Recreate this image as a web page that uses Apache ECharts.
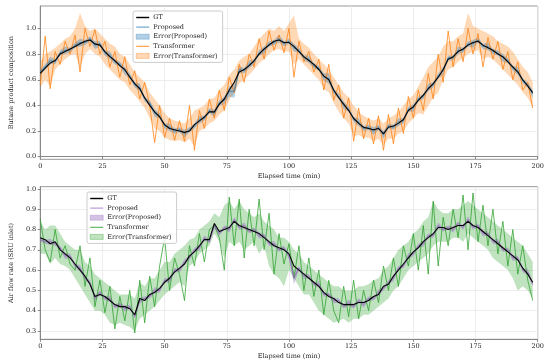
<!DOCTYPE html>
<html><head><meta charset="utf-8">
<script src="https://cdn.jsdelivr.net/npm/echarts@6/dist/echarts.min.js"></script>
<style>html,body{margin:0;padding:0;background:#fff}#c{width:550px;height:364px}</style>
</head><body><div id="c"></div>
<script>
// ---------- DATA ----------
const time = [0,2,4,6,8,10,12,14,16,18,20,22,24,26,28,30,32,34,36,38,40,42,44,46,48,50,52,54,56,58,60,62,64,66,68,70,72,74,76,78,80,82,84,86,88,90,92,94,96,98,100,102,104,106,108,110,112,114,116,118,120,122,124,126,128,130,132,134,136,138,140,142,144,146,148,150,152,154,156,158,160,162,164,166,168,170,172,174,176,178,180,182,184,186,188,190,192,194,196,198];
const xTicks = [0,25,50,75,100,125,150,175,200];
const yTicksTop = [0.0,0.2,0.4,0.6,0.8,1.0];
const yTicksBot = [0.3,0.4,0.5,0.6,0.7,0.8,0.9,1.0];
const legendNames = ['GT','Proposed','Error(Proposed)','Transformer','Error(Transformer)'];

// Top panel: Butane product composition
const gtTop = [0.65,0.69,0.73,0.75,0.80,0.82,0.84,0.86,0.88,0.90,
0.91,0.88,0.87,0.82,0.78,0.75,0.71,0.68,0.62,0.57,
0.53,0.46,0.40,0.35,0.31,0.25,0.22,0.21,0.20,0.19,
0.20,0.25,0.28,0.31,0.35,0.35,0.41,0.45,0.52,0.58,
0.66,0.68,0.71,0.75,0.80,0.84,0.87,0.90,0.91,0.89,
0.89,0.86,0.82,0.78,0.75,0.72,0.68,0.63,0.60,0.52,
0.46,0.41,0.36,0.30,0.26,0.23,0.22,0.21,0.22,0.18,
0.23,0.24,0.26,0.29,0.36,0.39,0.44,0.48,0.53,0.57,
0.62,0.68,0.76,0.78,0.82,0.84,0.87,0.89,0.90,0.87,
0.85,0.83,0.80,0.78,0.74,0.70,0.66,0.60,0.55,0.50];
const propTop = [0.66,0.70,0.75,0.74,0.81,0.83,0.83,0.87,0.89,0.89,
0.92,0.87,0.88,0.81,0.79,0.74,0.72,0.67,0.63,0.56,
0.54,0.45,0.42,0.34,0.32,0.24,0.23,0.20,0.21,0.18,
0.21,0.24,0.29,0.30,0.36,0.34,0.42,0.44,0.51,0.51,
0.68,0.67,0.72,0.74,0.81,0.83,0.88,0.89,0.92,0.88,
0.90,0.85,0.83,0.77,0.76,0.71,0.69,0.62,0.61,0.51,
0.47,0.40,0.37,0.29,0.27,0.22,0.23,0.20,0.23,0.17,
0.24,0.23,0.27,0.28,0.37,0.38,0.45,0.47,0.54,0.56,
0.63,0.67,0.77,0.77,0.83,0.83,0.88,0.88,0.91,0.86,
0.86,0.82,0.81,0.77,0.75,0.69,0.67,0.59,0.56,0.49];
const propErrTop = [0.02,0.02,0.03,0.02,0.02,0.03,0.02,0.02,0.03,0.02,
0.02,0.03,0.02,0.02,0.03,0.02,0.02,0.03,0.02,0.02,
0.03,0.02,0.02,0.03,0.02,0.02,0.03,0.02,0.02,0.03,
0.02,0.02,0.03,0.02,0.02,0.03,0.02,0.03,0.04,0.05,
0.03,0.02,0.03,0.02,0.02,0.03,0.02,0.02,0.03,0.02,
0.02,0.03,0.02,0.02,0.03,0.02,0.02,0.03,0.04,0.02,
0.02,0.03,0.02,0.02,0.03,0.02,0.02,0.03,0.02,0.03,
0.02,0.02,0.03,0.02,0.02,0.03,0.02,0.02,0.03,0.02,
0.02,0.03,0.02,0.02,0.03,0.02,0.02,0.03,0.02,0.02,
0.03,0.02,0.02,0.03,0.02,0.02,0.03,0.02,0.02,0.03];
const transTop = [0.56,0.94,0.53,0.82,0.72,0.90,0.80,0.95,0.66,1.00,
0.86,0.99,0.80,0.90,0.70,0.82,0.62,0.78,0.56,0.67,
0.45,0.58,0.40,0.11,0.40,0.15,0.30,0.13,0.28,0.12,
0.40,0.05,0.36,0.22,0.45,0.30,0.52,0.36,0.62,0.50,
0.72,0.58,0.80,0.70,0.92,0.76,0.98,0.83,0.95,0.81,
1.00,0.62,0.90,0.74,0.82,0.66,0.76,0.52,0.72,0.44,
0.56,0.30,0.46,0.12,0.38,0.14,0.30,0.10,0.32,0.05,
0.33,0.10,0.38,0.18,0.47,0.30,0.52,0.36,0.65,0.45,
0.80,0.58,0.98,0.70,0.92,0.74,1.00,0.80,0.96,0.70,
0.93,0.76,0.90,0.68,0.82,0.60,0.74,0.52,0.58,0.38];
const transLoTop = [0.54,0.60,0.55,0.68,0.72,0.76,0.79,0.80,0.70,0.80,
0.84,0.80,0.78,0.72,0.68,0.64,0.60,0.58,0.52,0.48,
0.43,0.38,0.30,0.22,0.20,0.15,0.13,0.12,0.13,0.11,
0.14,0.08,0.20,0.22,0.26,0.28,0.33,0.36,0.44,0.50,
0.57,0.60,0.64,0.68,0.73,0.76,0.80,0.83,0.84,0.82,
0.82,0.72,0.76,0.72,0.68,0.64,0.60,0.53,0.50,0.42,
0.35,0.30,0.26,0.16,0.17,0.15,0.15,0.12,0.14,0.09,
0.14,0.14,0.18,0.20,0.26,0.30,0.34,0.33,0.40,0.46,
0.50,0.60,0.68,0.70,0.74,0.77,0.80,0.82,0.83,0.76,
0.78,0.76,0.72,0.68,0.64,0.60,0.56,0.50,0.46,0.38];
const transHiTop = [0.74,0.80,0.82,0.85,0.88,0.92,0.94,1.00,1.12,1.02,
0.98,1.00,0.96,0.92,0.88,0.86,0.80,0.78,0.72,0.66,
0.62,0.58,0.50,0.45,0.40,0.34,0.30,0.28,0.27,0.26,
0.30,0.36,0.38,0.40,0.45,0.46,0.52,0.56,0.64,0.68,
0.75,0.78,0.80,0.86,0.92,0.96,1.00,0.98,1.02,0.98,
1.04,1.10,0.92,0.88,0.85,0.80,0.76,0.72,0.68,0.62,
0.56,0.50,0.46,0.40,0.35,0.32,0.30,0.28,0.30,0.26,
0.30,0.32,0.35,0.40,0.45,0.48,0.55,0.62,0.70,0.74,
0.78,0.86,0.90,0.90,0.94,0.96,1.12,1.02,1.00,0.98,
0.96,0.94,0.90,0.88,0.86,0.82,0.76,0.70,0.66,0.58];

// Bottom panel: Air flow rate (SRU inlet)
const gtBot = [0.76,0.75,0.73,0.74,0.70,0.68,0.66,0.63,0.60,0.57,
0.53,0.47,0.48,0.47,0.45,0.43,0.42,0.42,0.41,0.38,
0.46,0.45,0.48,0.49,0.51,0.54,0.56,0.59,0.61,0.63,
0.67,0.69,0.72,0.75,0.75,0.83,0.79,0.80,0.81,0.84,
0.82,0.81,0.80,0.79,0.78,0.76,0.74,0.72,0.71,0.70,
0.68,0.62,0.60,0.58,0.56,0.54,0.52,0.49,0.47,0.46,
0.44,0.43,0.43,0.43,0.44,0.44,0.45,0.47,0.48,0.52,
0.53,0.57,0.60,0.63,0.66,0.69,0.71,0.74,0.76,0.78,
0.81,0.81,0.80,0.81,0.82,0.82,0.84,0.82,0.81,0.79,
0.77,0.75,0.73,0.71,0.69,0.67,0.65,0.61,0.58,0.54];
const propBot = [0.75,0.74,0.74,0.73,0.71,0.67,0.67,0.62,0.61,0.56,
0.54,0.46,0.49,0.46,0.46,0.42,0.43,0.41,0.42,0.37,
0.45,0.46,0.47,0.50,0.50,0.55,0.55,0.60,0.60,0.64,
0.66,0.70,0.71,0.76,0.74,0.82,0.78,0.81,0.80,0.85,
0.81,0.82,0.79,0.80,0.77,0.77,0.73,0.73,0.70,0.71,
0.67,0.56,0.61,0.57,0.57,0.53,0.53,0.48,0.48,0.45,
0.45,0.42,0.44,0.42,0.45,0.43,0.46,0.46,0.49,0.51,
0.54,0.56,0.61,0.62,0.67,0.68,0.72,0.73,0.77,0.77,
0.82,0.80,0.81,0.80,0.83,0.81,0.85,0.81,0.82,0.78,
0.78,0.74,0.74,0.70,0.70,0.66,0.66,0.60,0.59,0.53];
const propErrBot = [0.01,0.01,0.015,0.01,0.01,0.015,0.01,0.01,0.015,0.01,
0.01,0.015,0.01,0.01,0.015,0.01,0.01,0.015,0.01,0.01,
0.015,0.01,0.01,0.015,0.01,0.01,0.015,0.01,0.01,0.015,
0.01,0.01,0.015,0.01,0.01,0.015,0.01,0.01,0.015,0.01,
0.01,0.015,0.01,0.01,0.015,0.01,0.01,0.015,0.01,0.01,
0.015,0.03,0.01,0.015,0.01,0.01,0.015,0.01,0.01,0.015,
0.01,0.01,0.015,0.01,0.01,0.015,0.01,0.01,0.015,0.01,
0.01,0.015,0.01,0.01,0.015,0.01,0.01,0.015,0.01,0.01,
0.015,0.01,0.01,0.015,0.01,0.01,0.015,0.01,0.01,0.015,
0.01,0.01,0.015,0.01,0.01,0.015,0.01,0.01,0.015,0.01];
const transBot = [0.85,0.70,0.64,0.80,0.66,0.72,0.63,0.60,0.72,0.52,
0.66,0.42,0.55,0.39,0.52,0.31,0.47,0.35,0.50,0.29,
0.55,0.34,0.57,0.42,0.62,0.76,0.50,0.66,0.58,0.45,
0.72,0.62,0.78,0.64,0.80,0.82,0.76,0.60,0.96,0.72,
0.95,0.66,0.90,0.72,0.95,0.70,0.88,0.58,0.78,0.63,
0.73,0.56,0.72,0.50,0.66,0.47,0.60,0.38,0.55,0.40,
0.34,0.52,0.37,0.55,0.36,0.50,0.40,0.55,0.44,0.62,
0.50,0.66,0.52,0.72,0.62,0.78,0.60,0.82,0.58,0.94,
0.62,0.86,0.72,0.90,0.76,0.97,0.70,0.98,0.74,0.92,
0.72,0.90,0.68,0.84,0.62,0.80,0.58,0.72,0.55,0.45];
const transLoBot = [0.68,0.68,0.63,0.66,0.63,0.62,0.60,0.56,0.52,0.48,
0.44,0.40,0.40,0.38,0.34,0.33,0.34,0.33,0.32,0.30,
0.36,0.38,0.40,0.42,0.45,0.48,0.50,0.52,0.54,0.52,
0.62,0.64,0.68,0.70,0.72,0.78,0.74,0.66,0.74,0.72,
0.74,0.70,0.72,0.74,0.68,0.72,0.62,0.58,0.56,0.52,
0.60,0.56,0.52,0.48,0.48,0.44,0.40,0.38,0.36,0.34,
0.35,0.36,0.34,0.36,0.36,0.38,0.38,0.40,0.42,0.44,
0.46,0.50,0.52,0.56,0.60,0.62,0.64,0.66,0.68,0.72,
0.74,0.74,0.74,0.76,0.76,0.74,0.78,0.76,0.74,0.72,
0.70,0.66,0.64,0.62,0.60,0.56,0.50,0.52,0.50,0.46];
const transHiBot = [0.84,0.80,0.82,0.82,0.78,0.74,0.72,0.70,0.70,0.64,
0.62,0.58,0.56,0.54,0.52,0.50,0.48,0.48,0.48,0.46,
0.54,0.52,0.56,0.56,0.60,0.64,0.64,0.68,0.70,0.72,
0.75,0.76,0.80,0.82,0.84,0.88,0.86,0.92,0.94,0.90,
0.94,0.90,0.88,0.86,0.88,0.84,0.82,0.80,0.76,0.76,
0.74,0.70,0.68,0.64,0.62,0.60,0.58,0.56,0.54,0.52,
0.52,0.50,0.50,0.50,0.52,0.52,0.53,0.55,0.56,0.60,
0.62,0.66,0.70,0.72,0.74,0.78,0.80,0.84,0.86,0.94,
0.90,0.88,0.88,0.90,0.90,0.92,0.94,0.92,0.90,0.88,
0.86,0.84,0.82,0.80,0.78,0.76,0.74,0.72,0.68,0.64];

// ---------- CHART ----------
const FONT = 'DejaVu Serif';
const chart = echarts.init(document.getElementById('c'), null, {renderer:'canvas'});
const pair = arr => time.map((t,i)=>[t, arr[i]]);

function bandSeries(p, name, lo, hi, fill) {
  const data = time.map((t,i)=>[t, lo[i], hi[i]]);
  return {
    type:'custom', name:name, xAxisIndex:p, yAxisIndex:p, silent:true, clip:true, z:1,
    itemStyle:{color:fill},
    encode:{x:0, y:[1,2]},
    data:data,
    renderItem:function(params, api){
      if (params.dataIndex !== 0) return null;
      const pts = [];
      for (let i=0;i<data.length;i++) pts.push(api.coord([data[i][0], data[i][1]]));
      for (let i=data.length-1;i>=0;i--) pts.push(api.coord([data[i][0], data[i][2]]));
      const cs = params.coordSys;
      return {type:'polygon', shape:{points:pts}, style:{fill:fill},
        clipPath:{type:'rect', shape:{x:cs.x, y:cs.y, width:cs.width, height:cs.height}}};
    }
  };
}

function panelSeries(p, sfx, gt, prop, perr, trans, tlo, thi, cProp, cPropBand, cTrans, cTransBand) {
  const plo = prop.map((v,i)=>v-perr[i]);
  const phi = prop.map((v,i)=>v+perr[i]);
  const base = {type:'line', xAxisIndex:p, yAxisIndex:p, symbol:'none', showSymbol:false, animation:false};
  return [
    bandSeries(p, 'Error(Transformer)'+sfx, tlo, thi, cTransBand),
    bandSeries(p, 'Error(Proposed)'+sfx, plo, phi, cPropBand),
    Object.assign({}, base, {name:'Transformer'+sfx, data:pair(trans), lineStyle:{color:cTrans, width:0.9}, itemStyle:{color:cTrans}, z:3}),
    Object.assign({}, base, {name:'Proposed'+sfx, data:pair(prop), lineStyle:{color:cProp, width:1}, itemStyle:{color:cProp}, z:4}),
    Object.assign({}, base, {name:'GT'+sfx, data:pair(gt), lineStyle:{color:'#000', width:1.1}, itemStyle:{color:'#000'}, z:5})
  ];
}

function xAxisCfg(gi) {
  return {type:'value', gridIndex:gi, min:0, max:200, interval:25,
    name:'Elapsed time (min)', nameLocation:'middle', nameGap:13.5,
    nameTextStyle:{fontFamily:FONT, fontSize:6.5, color:'#222', verticalAlign:'top'},
    axisLine:{show:true, lineStyle:{color:'#888', width:1}},
    axisTick:{show:true, length:2.5, lineStyle:{color:'#888'}, customValues:xTicks},
    axisLabel:{fontFamily:FONT, fontSize:6.5, color:'#222', margin:4, customValues:xTicks},
    splitLine:{show:true, lineStyle:{color:'#e8e8e8', width:0.8}}};
}
function yAxisCfg(gi, min, max, split, ticks, name) {
  return {type:'value', gridIndex:gi, min:min, max:max, splitNumber:split,
    name:name, nameLocation:'middle', nameGap:17,
    nameTextStyle:{fontFamily:FONT, fontSize:6.5, color:'#222'},
    axisLine:{show:true, lineStyle:{color:'#888', width:1}},
    axisTick:{show:true, length:2.5, lineStyle:{color:'#888'}, customValues:ticks},
    axisLabel:{fontFamily:FONT, fontSize:6.5, color:'#222', margin:4, customValues:ticks,
      formatter:v=>(+v).toFixed(1)},
    splitLine:{show:true, lineStyle:{color:'#e8e8e8', width:0.8}}};
}
const LINE_ICON = 'path://M0,0 L20,0 L20,1.6 L0,1.6 Z';
const GT_ICON = 'path://M0,0 L20,0 L20,2.2 L0,2.2 Z';
function legendCfg(left, top, sfx, cProp, cPropBand, cTrans, cTransBand) {
  return {orient:'vertical', left:left, top:top, itemWidth:13, itemHeight:5, itemGap:2.6,
    symbolKeepAspect:true,
    padding:[3,5,3,3], backgroundColor:'rgba(255,255,255,0.85)', borderColor:'#cccccc', borderWidth:1, borderRadius:2,
    textStyle:{fontFamily:FONT, fontSize:6.5, color:'#222', padding:[0,0,0,-1]},
    selectedMode:false,
    formatter: n => n.replace(sfx,''),
    data:[
      {name:'GT'+sfx, icon:GT_ICON, itemStyle:{color:'#000', borderWidth:0}},
      {name:'Proposed'+sfx, icon:LINE_ICON, itemStyle:{color:cProp, borderWidth:0}},
      {name:'Error(Proposed)'+sfx, icon:'rect', itemStyle:{color:cPropBand, borderColor:cProp, borderWidth:0.4, opacity:1}},
      {name:'Transformer'+sfx, icon:LINE_ICON, itemStyle:{color:cTrans, borderWidth:0}},
      {name:'Error(Transformer)'+sfx, icon:'rect', itemStyle:{color:cTransBand, borderColor:cTrans, borderWidth:0.4, opacity:1}}
    ]};
}

const cPropT='rgba(31,119,180,0.75)', cPropBandT='rgba(31,119,180,0.35)', cTransT='rgba(255,127,14,0.85)', cTransBandT='rgba(255,127,14,0.3)';
const cPropB='rgba(148,103,189,0.75)', cPropBandB='rgba(148,103,189,0.4)', cTransB='rgba(44,160,44,0.85)', cTransBandB='rgba(44,160,44,0.3)';

chart.setOption({
  backgroundColor:'#fff',
  animation:false,
  grid:[
    {left:29.5, top:6, width:508.2, height:153.3, show:true, borderColor:'#999', borderWidth:1, backgroundColor:'transparent'},
    {left:29.5, top:186.7, width:508.2, height:152.6, show:true, borderColor:'#999', borderWidth:1, backgroundColor:'transparent'}
  ],
  xAxis:[xAxisCfg(0), xAxisCfg(1)],
  yAxis:[yAxisCfg(0,-0.02,1.175,6,yTicksTop,'Butane product composition'),
         yAxisCfg(1,0.259,1.011,8,yTicksBot,'Air flow rate (SRU inlet)')],
  legend:[legendCfg(133,11,'',cPropT,cPropBandT,cTransT,cTransBandT),
          legendCfg(87,192,'#2',cPropB,cPropBandB,cTransB,cTransBandB)],
  series:[].concat(
    panelSeries(0,'',gtTop,propTop,propErrTop,transTop,transLoTop,transHiTop,cPropT,cPropBandT,cTransT,cTransBandT),
    panelSeries(1,'#2',gtBot,propBot,propErrBot,transBot,transLoBot,transHiBot,cPropB,cPropBandB,cTransB,cTransBandB)
  )
});
</script></body></html>
